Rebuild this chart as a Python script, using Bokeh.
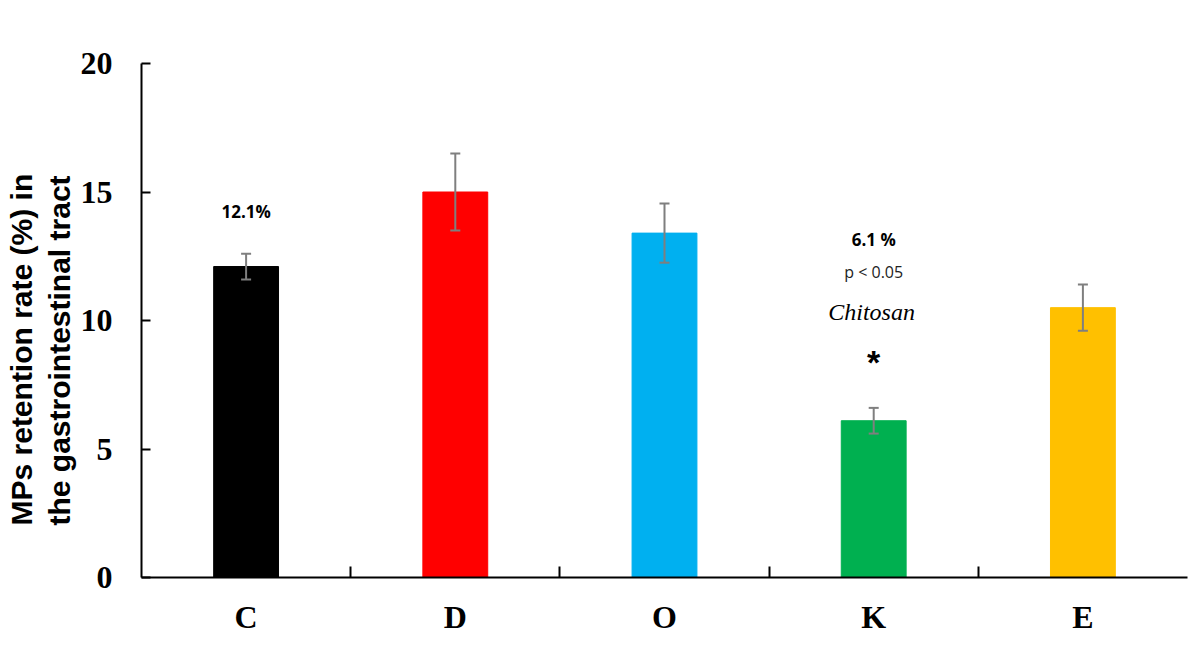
from bokeh.plotting import figure
from bokeh.models import Range1d, FixedTicker, ColumnDataSource, Whisker, Title, TeeHead
from bokeh.core.properties import value
from bokeh.embed import file_html
from bokeh.resources import INLINE

# ---- data ----
categories = ["C", "D", "O", "K", "E"]
retention = [12.1, 15.0, 13.4, 6.1, 10.5]
errors = [0.5, 1.5, 1.15, 0.5, 0.9]
bar_colors = ["#000000", "#FF0000", "#00B0F0", "#00B050", "#FFC000"]
y_ticks = [0, 5, 10, 15, 20]
title_lines = ["MPs retention rate (%) in", "the gastrointestinal tract"]

xpos = [i + 0.5 for i in range(len(categories))]
src = ColumnDataSource(dict(
    x=xpos, top=retention, color=bar_colors,
    upper=[v + e for v, e in zip(retention, errors)],
    lower=[v - e for v, e in zip(retention, errors)],
))

p = figure(width=1195, height=665, output_backend="svg", toolbar_location=None,
           x_range=Range1d(0, len(categories)), y_range=Range1d(0, 20),
           min_border_left=141, min_border_right=8, min_border_top=63, min_border_bottom=88)
p.outline_line_color = None
p.xgrid.grid_line_color = None
p.ygrid.grid_line_color = None
p.background_fill_color = "white"
p.border_fill_color = "white"

p.vbar(x="x", top="top", width=0.31, bottom=0, fill_color="color", line_color="color", source=src)
p.add_layout(Whisker(base="x", upper="upper", lower="lower", source=src, level="annotation",
                     line_color="#7F7F7F", line_width=2,
                     upper_head=TeeHead(size=10, line_color="#7F7F7F", line_width=2),
                     lower_head=TeeHead(size=10, line_color="#7F7F7F", line_width=2)))

# y axis
ya = p.yaxis[0]
ya.ticker = FixedTicker(ticks=y_ticks, minor_ticks=[])
ya.major_tick_in = 9
ya.major_tick_out = 0
ya.minor_tick_in = 0
ya.minor_tick_out = 0
ya.axis_line_color = "black"
ya.axis_line_width = 2
ya.major_tick_line_width = 2
ya.major_label_text_font = "Liberation Serif"
ya.major_label_text_font_style = "bold"
ya.major_label_text_font_size = "32px"
ya.major_label_text_color = "black"
ya.major_label_standoff = 29

# x axis: labels at centres, ticks at category boundaries
xa = p.xaxis[0]
xa.ticker = FixedTicker(ticks=xpos, minor_ticks=[i for i in range(1, len(categories))])
xa.major_label_overrides = {x: c for x, c in zip(xpos, categories)}
xa.major_tick_in = 0
xa.major_tick_out = 0
xa.minor_tick_in = 11
xa.minor_tick_out = 0
xa.minor_tick_line_color = "black"
xa.minor_tick_line_width = 2
xa.axis_line_color = "black"
xa.axis_line_width = 2
xa.major_label_text_font = "Liberation Serif"
xa.major_label_text_font_style = "bold"
xa.major_label_text_font_size = "32px"
xa.major_label_text_color = "black"
xa.major_label_standoff = 21

# y axis title (two lines) as left-side titles; inner line first
for t in reversed(title_lines):
    p.add_layout(Title(text=t, align="left", offset=52, standoff=3,
                       text_font="Liberation Sans", text_font_style="bold",
                       text_font_size="30px", text_color="black"), "left")

# annotations
p.text(x=[xpos[0]], y=[14.26], text=["12.1%"], text_align="center", text_baseline="middle",
       text_font=value("Open Sans"), text_font_style="bold", text_font_size="17px", text_color="black")
p.text(x=[xpos[3]], y=[13.15], text=["6.1 %"], text_align="center", text_baseline="middle",
       text_font=value("Open Sans"), text_font_style="bold", text_font_size="17px", text_color="black")
p.text(x=[xpos[3]], y=[11.87], text=["p < 0.05"], text_align="center", text_baseline="middle",
       text_font=value("Open Sans"), text_font_size="16px", text_color="#222222")
p.text(x=[xpos[3] - 0.01], y=[10.35], text=["Chitosan"], text_align="center", text_baseline="middle",
       text_font=value("Liberation Serif"), text_font_style="italic", text_font_size="24px", text_color="black")
p.text(x=[xpos[3]], y=[8.37], text=["*"], text_align="center", text_baseline="middle",
       text_font=value("Liberation Sans"), text_font_style="bold", text_font_size="34px", text_color="black")

open("out.html", "w").write(file_html(p, INLINE))
